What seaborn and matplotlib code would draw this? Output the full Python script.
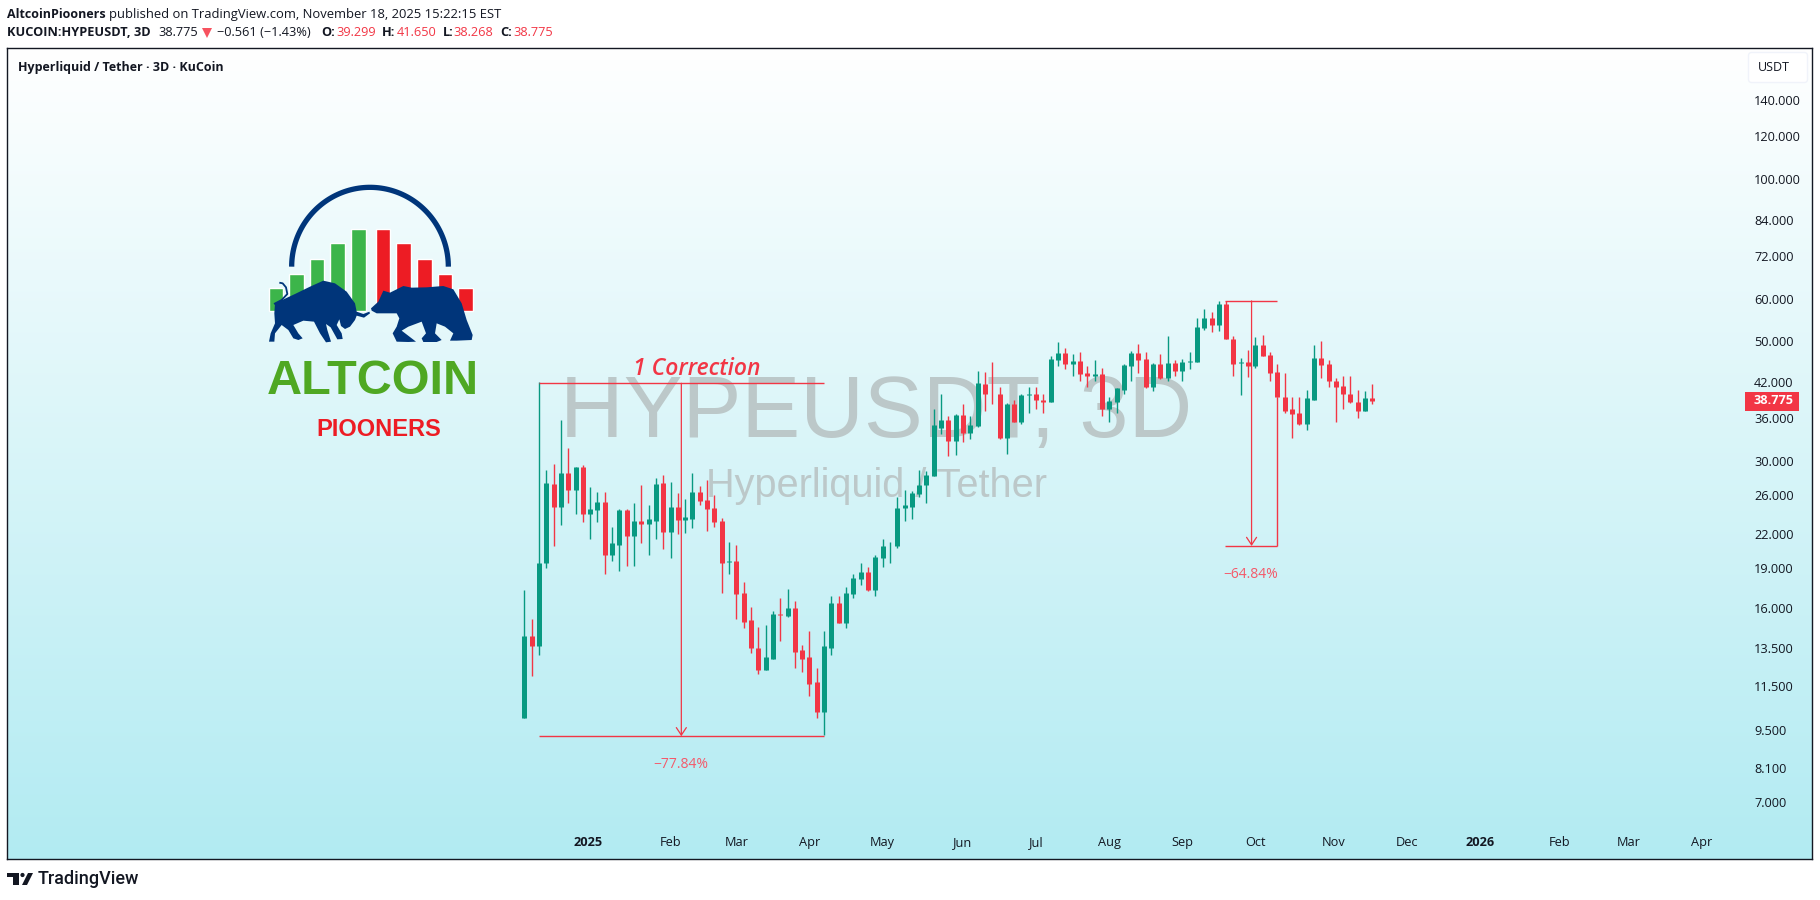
import numpy as np
import pandas as pd
import matplotlib
matplotlib.use("Agg")
import matplotlib.pyplot as plt
import seaborn as sns
from matplotlib.patches import Rectangle, FancyBboxPatch

# candle values (3D candles, USDT)
opens = [10.0, 14.2, 13.6, 19.4, 27.2, 24.7, 28.5, 26.5, 29.2, 23.9, 24.3, 25.2, 20.1, 21.0, 24.3, 21.8, 23.2, 22.9, 23.2, 27.3,
         22.2, 24.7, 23.3, 23.4, 26.3, 25.4, 24.5, 23.2, 19.5, 19.6, 17.1, 15.2, 13.5, 12.3, 12.9, 15.6, 15.5, 16.0, 13.4, 13.0,
         11.7, 10.3, 13.5, 16.4, 15.0, 17.0, 18.1, 18.7, 17.3, 19.8, 20.85, 20.9, 24.5, 24.7, 26.1, 27.1, 28.2, 34.6, 35.7, 32.7,
         36.5, 33.8, 34.9, 41.6, 40.0, 39.9, 33.1, 38.3, 35.5, 39.7, 39.9, 39.0, 38.6, 46.1, 47.5, 45.3, 45.9, 43.6, 43.2, 43.4,
         37.4, 38.6, 40.7, 45.0, 47.5, 46.4, 41.1, 45.3, 42.7, 45.5, 44.0, 45.7, 45.7, 52.9, 55.2, 53.7, 58.6, 50.6, 45.5, 45.7,
         45.0, 49.3, 47.1, 43.8, 39.5, 37.4, 36.8, 35.2, 39.0, 46.5, 45.3, 42.3, 41.3, 40.0, 38.6, 37.2, 39.299]
closes = [14.2, 13.6, 19.4, 27.3, 24.7, 28.5, 26.5, 29.2, 23.9, 24.4, 25.2, 20.1, 21.1, 24.3, 21.8, 23.2, 22.9, 23.4, 27.2, 22.2,
          24.7, 23.3, 23.6, 26.3, 25.3, 24.4, 23.1, 19.4, 19.6, 17.0, 15.1, 13.5, 12.3, 13.0, 15.6, 15.55, 16.0, 13.3, 12.9, 11.6,
          10.3, 13.6, 16.4, 15.0, 17.1, 18.2, 18.7, 17.3, 19.9, 20.9, 20.9, 24.6, 24.9, 26.2, 27.1, 28.3, 35.0, 35.7, 32.7, 36.5,
          33.8, 35.0, 41.8, 39.9, 39.9, 33.1, 38.3, 35.5, 39.7, 39.9, 38.9, 38.6, 46.4, 47.5, 45.3, 45.9, 43.4, 43.1, 43.4, 37.4,
          38.7, 40.9, 45.1, 47.5, 46.1, 41.1, 45.3, 42.7, 45.5, 44.0, 45.7, 45.9, 53.1, 55.2, 53.7, 58.6, 50.4, 45.3, 45.7, 45.0,
          49.3, 46.9, 43.6, 39.4, 37.2, 36.6, 35.2, 39.2, 46.5, 45.1, 42.2, 41.1, 39.9, 38.6, 37.2, 39.2, 38.775]
highs = [17.3, 15.3, 42.1, 28.9, 29.6, 35.7, 31.7, 29.3, 29.5, 26.8, 26.3, 26.3, 22.6, 24.4, 24.4, 25.1, 27.1, 24.9, 27.9, 28.3,
         27.4, 26.2, 25.5, 28.5, 27.0, 27.7, 25.9, 23.5, 21.2, 21.0, 17.9, 16.1, 14.8, 14.9, 15.8, 16.7, 17.4, 16.5, 13.7, 14.5,
         12.4, 14.5, 16.9, 16.9, 17.5, 18.5, 19.4, 19.1, 20.1, 21.5, 21.2, 25.7, 26.5, 26.4, 28.9, 28.8, 37.5, 39.9, 36.3, 36.6,
         38.3, 36.3, 44.0, 43.8, 45.7, 41.1, 38.5, 39.0, 39.9, 41.1, 41.1, 40.0, 47.0, 49.8, 48.5, 47.3, 47.7, 45.0, 46.1, 44.6,
         39.4, 40.9, 45.3, 47.9, 49.4, 47.7, 45.5, 47.3, 51.1, 46.1, 46.3, 47.7, 55.2, 57.4, 56.6, 59.3, 59.3, 51.1, 46.5, 48.1,
         50.9, 51.3, 47.7, 45.3, 43.6, 39.4, 39.5, 40.7, 49.3, 50.0, 46.1, 42.7, 43.2, 43.2, 40.7, 40.4, 41.65]
lows = [10.0, 12.0, 13.1, 19.0, 20.9, 22.8, 25.1, 23.9, 23.1, 21.5, 23.1, 18.5, 19.6, 18.8, 19.2, 19.2, 21.1, 20.1, 21.5, 20.6,
        19.8, 22.0, 22.1, 22.5, 24.9, 22.3, 22.6, 17.1, 18.5, 15.3, 14.7, 13.2, 12.1, 12.3, 12.9, 13.9, 15.4, 12.4, 12.2, 11.0,
        10.0, 9.3, 13.1, 15.0, 14.7, 16.7, 17.7, 17.2, 16.9, 19.1, 19.4, 20.7, 23.2, 23.4, 25.7, 25.1, 28.2, 33.6, 30.6, 30.8,
        32.5, 32.9, 34.7, 37.2, 38.3, 33.0, 30.9, 35.5, 35.2, 36.8, 37.5, 36.9, 38.6, 45.0, 44.4, 43.1, 42.3, 41.1, 42.3, 36.3,
        35.5, 36.8, 40.0, 42.2, 43.6, 40.9, 40.4, 42.5, 42.3, 43.2, 42.3, 44.4, 45.7, 52.4, 52.0, 52.2, 50.4, 43.1, 39.7, 42.9,
        44.6, 46.9, 42.3, 39.4, 36.8, 33.1, 35.0, 34.3, 38.9, 42.7, 41.1, 35.4, 37.5, 38.4, 36.0, 37.1, 38.268]

dates = pd.date_range("2024-12-06", periods=len(opens), freq="3D")

price_ticks = [7, 8.1, 9.5, 11.5, 13.5, 16, 19, 22, 26, 30, 36, 42, 50, 60, 72, 84, 100, 120, 140]
time_ticks = ["2025-01-01", "2025-02-04", "2025-03-03", "2025-04-02", "2025-05-02", "2025-06-04", "2025-07-04", "2025-08-03",
              "2025-09-02", "2025-10-02", "2025-11-03", "2025-12-03", "2026-01-02", "2026-02-04", "2026-03-04", "2026-04-03"]
time_labels = ["2025", "Feb", "Mar", "Apr", "May", "Jun", "Jul", "Aug", "Sep", "Oct", "Nov", "Dec", "2026", "Feb", "Mar", "Apr"]

# the two measured drops
drop_prices = [41.8, 9.27, 59.4, 20.88]
last_price = 38.775

GREEN = "#089981"
RED = "#F23645"
DARK = "#131722"
FONT = "Open Sans"

sns.set_theme(style="white", rc={"lines.solid_capstyle": "butt", "axes.grid": False})
plt.rcParams["font.family"] = [FONT, "DejaVu Sans"]

W, H = 1820, 900
fig = plt.figure(figsize=(W / 100, H / 100), dpi=100, facecolor="white")

# chart pane in pixels
L, T, R, B = 7, 48, 1812, 859
rect = [L / W, 1 - B / H, (R - L) / W, (B - T) / H]

# background gradient and watermark, under the candles
bg = fig.add_axes([0, 0, 1, 1], zorder=0)
top_c = np.array([1.0, 1.0, 1.0])
bot_c = np.array(matplotlib.colors.to_rgb("#B2EBF2"))
grad = np.linspace(0, 1, 256)[:, None, None] * (bot_c - top_c) + top_c
bg.imshow(grad, extent=(L, R, B, T), aspect="auto", interpolation="bilinear")
bg.set_xlim(0, W)
bg.set_ylim(H, 0)
bg.axis("off")
bg.text(876, 415, "HYPEUSDT, 3D", family="Liberation Sans", fontsize=63.5, color="#BCC8C9", ha="center", va="center")
bg.text(877, 486, "Hyperliquid / Tether", family="Liberation Sans", fontsize=28.6, color="#BCC8C9", ha="center", va="center")

# candles
ax = fig.add_axes(rect, zorder=1)
ax.patch.set_visible(False)
side = ["up" if c >= o else "down" for o, c in zip(opens, closes)]
candle = list(range(len(opens)))
wicks = pd.DataFrame({"date": list(dates) * 2, "price": highs + lows, "candle": candle * 2, "side": side * 2})
bodies = pd.DataFrame({"date": list(dates) * 2, "price": opens + closes, "candle": candle * 2, "side": side * 2})
pal = {"up": GREEN, "down": RED}
sns.lineplot(data=wicks, x="date", y="price", units="candle", hue="side", estimator=None, palette=pal,
             linewidth=1.0, legend=False, ax=ax)
sns.lineplot(data=bodies, x="date", y="price", units="candle", hue="side", estimator=None, palette=pal,
             linewidth=3.6, legend=False, ax=ax)

ax.set_yscale("log")
ax.set_ylim(5.49, 174.8)
start = pd.Timestamp("2024-12-06")
ax.set_xlim(start - pd.Timedelta(days=212.3), start + pd.Timedelta(days=528.4))
ax.set_xlabel("")
ax.set_ylabel("")

ax.yaxis.tick_right()
ax.set_yticks(price_ticks)
ax.set_yticklabels(["%.3f" % p for p in price_ticks])
ax.minorticks_off()
ax.tick_params(axis="y", which="both", length=0, pad=-41.8, labelsize=9.2, labelcolor=DARK)
for lab in ax.get_yticklabels():
    lab.set_horizontalalignment("left")
ax.set_xticks(pd.to_datetime(time_ticks))
ax.set_xticklabels(time_labels)
ax.tick_params(axis="x", length=0, pad=-16.5, labelsize=9.2, labelcolor=DARK)
for lab, name in zip(ax.get_xticklabels(), time_labels):
    if name.startswith("20"):
        lab.set_fontweight("bold")
for s in ax.spines.values():
    s.set_color(DARK)
    s.set_linewidth(1.0)

# measure drawings
d = pd.to_datetime
ax.hlines(drop_prices[0], d("2024-12-12"), d("2025-04-08"), color=RED, lw=1, zorder=4)
ax.hlines(drop_prices[1], d("2024-12-12"), d("2025-04-08"), color=RED, lw=1, zorder=4)
ax.annotate("", xy=(d("2025-02-08 10:00"), drop_prices[1]), xytext=(d("2025-02-08 10:00"), drop_prices[0]),
            arrowprops=dict(arrowstyle="->,head_length=0.45,head_width=0.3", color=RED, lw=0.9, shrinkA=0, shrinkB=0), zorder=4)
ax.hlines(drop_prices[2], d("2025-09-19 12:00"), d("2025-10-11"), color=RED, lw=1, zorder=4)
ax.hlines(drop_prices[3], d("2025-09-19 12:00"), d("2025-10-11"), color=RED, lw=1, zorder=4)
ax.vlines(d("2025-10-11"), drop_prices[3], 39.4, color=RED, lw=1, zorder=4)
ax.annotate("", xy=(d("2025-09-30 10:00"), drop_prices[3]), xytext=(d("2025-09-30 10:00"), drop_prices[2]),
            arrowprops=dict(arrowstyle="->,head_length=0.45,head_width=0.3", color=RED, lw=0.9, shrinkA=0, shrinkB=0), zorder=4)

# everything laid out in plain pixels
px = fig.add_axes([0, 0, 1, 1], zorder=2)
px.patch.set_visible(False)
px.set_xlim(0, W)
px.set_ylim(H, 0)
px.axis("off")

px.text(696.5, 369, "1 Correction", color=RED, fontsize=16.5, style="italic", weight="semibold", ha="center", va="center")
px.text(681, 764.5, "\u221277.84%", color="#F4596A", fontsize=10, ha="center", va="center")
px.text(1251, 574, "\u221264.84%", color="#F4596A", fontsize=10, ha="center", va="center")

# last price tag and currency box
px.add_patch(Rectangle((1745, 392), 54, 18.7, color=RED, lw=0))
px.text(1754, 401, "%.3f" % last_price, color="white", fontsize=9.2, weight="bold", va="center", ha="left")
px.add_patch(FancyBboxPatch((1751, 55), 54, 25, boxstyle="round,pad=2.5,rounding_size=3", fc="white", ec="#F0F3FA", lw=1))
px.text(1758, 67.5, "USDT", color=DARK, fontsize=9, va="center", ha="left")

# header lines
px.text(7, 14.5, "AltcoinPiooners", color=DARK, fontsize=9, weight="bold", va="center")
px.text(109, 14.5, "published on TradingView.com, November 18, 2025 15:22:15 EST", color=DARK, fontsize=9.35, va="center")
header = [(7, "KUCOIN:HYPEUSDT, 3D", DARK, "bold"), (158, "38.775", DARK, "normal"),
          (217, "\u22120.561 (\u22121.43%)", DARK, "normal"), (321, "O:", DARK, "bold"), (336, "39.299", RED, "normal"),
          (381.5, "H:", DARK, "bold"), (397, "41.650", RED, "normal"), (443, "L:", DARK, "bold"),
          (453.5, "38.268", RED, "normal"), (500, "C:", DARK, "bold"), (513, "38.775", RED, "normal")]
for hx, txt, col, wt in header:
    px.text(hx, 33, txt, color=col, fontsize=9.2, weight=wt, va="center")
px.fill([202, 212, 207], [28, 28, 38], color="#F7525F", lw=0)
px.text(17.5, 67.5, "Hyperliquid / Tether \u00b7 3D \u00b7 KuCoin", color=DARK, fontsize=9, weight="bold", va="center")

# TradingView mark
px.fill([7, 19, 19, 13, 13, 7], [873, 873, 885, 885, 877, 877], color=DARK, lw=0)
px.add_patch(plt.Circle((22.5, 875), 2.1, color=DARK, lw=0))
px.fill([28, 33, 27, 22], [873, 873, 885, 885], color=DARK, lw=0)
px.text(38, 879.5, "TradingView", family="Roboto", color=DARK, fontsize=13, weight="medium", va="center")

# AltcoinPiooners logo, in its own little frame
logo = fig.add_axes([240 / W, 1 - 460 / H, 260 / W, 290 / H], zorder=2)
logo.patch.set_visible(False)
logo.set_xlim(0, 780)
logo.set_ylim(870, 0)
logo.axis("off")
logo.bar([108, 170, 231, 293, 356], [-69, -111, -155, -203, -246], bottom=423, width=44, color="#3CB54A")
logo.bar([429, 491, 553, 615, 676], [-246, -203, -155, -111, -69], bottom=423, width=44, color="#ED1C24")
theta = np.linspace(np.pi, 0, 100)
NAVY = "#00357A"
logo.plot(390 + 235 * np.cos(theta), 290 - 238 * np.sin(theta), color=NAVY, lw=3.8)
bull_x = [105, 165, 210, 250, 285, 320, 345, 350, 370, 388, 390, 372, 350, 345, 330, 315, 303, 298, 290, 305, 308, 292, 272, 258, 262, 273,
          258, 240, 222, 190, 160, 175, 188, 175, 160, 145, 125, 105, 103, 87, 92, 105, 103]
bull_y = [400, 372, 350, 332, 340, 365, 400, 425, 432, 425, 430, 443, 437, 450, 470, 477, 468, 448, 465, 490, 507, 508, 472, 462, 480, 515,
          517, 490, 455, 452, 465, 490, 505, 510, 505, 480, 465, 490, 515, 515, 490, 460, 430]
logo.fill(bull_x, bull_y, color=NAVY, lw=0)
logo.plot([102, 125, 142, 138, 128, 118], [402, 390, 372, 352, 340, 338], color=NAVY, lw=1.3)
bear_x = [393, 415, 430, 450, 490, 515, 560, 610, 640, 665, 680, 698, 695, 650, 630, 640, 615, 590, 585, 605, 590, 550, 545, 558, 545, 505,
          485, 515, 528, 505, 470, 458, 470, 478, 470, 440, 410, 395]
bear_y = [415, 395, 362, 368, 348, 353, 352, 348, 358, 400, 450, 495, 510, 512, 512, 490, 470, 460, 490, 510, 516, 516, 505, 490, 455, 470,
          482, 505, 515, 516, 515, 490, 470, 445, 430, 430, 430, 422]
logo.fill(bear_x, bear_y, color=NAVY, lw=0)
px.text(373, 381, "ALTCOIN", family="Liberation Sans", color="#4FA823", fontsize=35, weight="bold", ha="center", va="center")
px.text(379, 430, "PIOONERS", family="Liberation Sans", color="#ED1C24", fontsize=17, weight="bold", ha="center", va="center")

fig.savefig("out.png", dpi=100)
